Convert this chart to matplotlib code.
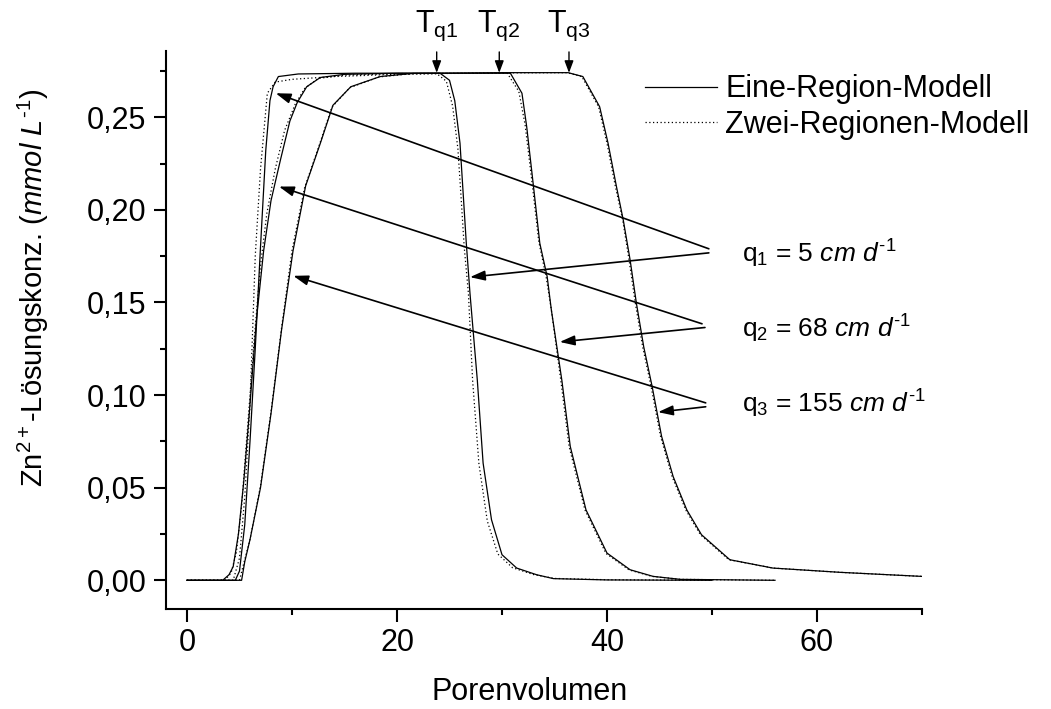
import matplotlib
matplotlib.use("Agg")
import matplotlib.pyplot as plt
from matplotlib.lines import Line2D
from matplotlib.ticker import MultipleLocator, FuncFormatter

plt.rcParams['font.family'] = ['Liberation Sans', 'DejaVu Sans']
plt.rcParams['mathtext.fontset'] = 'custom'
plt.rcParams['mathtext.rm'] = 'Liberation Sans'
plt.rcParams['mathtext.it'] = 'Liberation Sans:italic'
plt.rcParams['mathtext.bf'] = 'Liberation Sans:bold'

# q1 = 5 cm/d
pv_q1_ein = [0, 4.6, 5.0, 5.5, 6.0, 6.5, 7.0, 7.5, 7.9, 8.2, 8.7, 10.6, 16.0, 24.1, 25.0, 25.5,
             26.0, 26.3, 26.6, 26.95, 27.65, 28.2, 29.0, 30.0, 31.4, 33.3, 34.9, 40.0, 50.0]
c_q1_ein = [0, 0, 0.005, 0.03, 0.075, 0.125, 0.18, 0.232, 0.259, 0.2665, 0.272, 0.2734, 0.2738, 0.2738,
            0.270, 0.259, 0.236, 0.209, 0.182, 0.155, 0.108, 0.0633, 0.0327, 0.0138, 0.0066, 0.003,
            0.0009, 0.0002, 0.0]
pv_q1_zwei = [0, 4.4, 5.0, 5.5, 6.0, 6.5, 7.0, 7.65, 8.4, 10.0, 14.0, 20.0, 23.8, 24.7, 25.3, 25.8,
              26.1, 26.4, 26.8, 27.2, 27.8, 28.6, 29.6, 31.0, 33.0, 35.0, 40.0, 50.0]
c_q1_zwei = [0, 0, 0.012, 0.045, 0.095, 0.175, 0.222, 0.263, 0.269, 0.2705, 0.272, 0.2732, 0.2735,
             0.2695, 0.256, 0.233, 0.207, 0.18, 0.155, 0.108, 0.063, 0.032, 0.0142, 0.0068, 0.0031,
             0.001, 0.0003, 0.0]

# q2 = 68 cm/d
pv_q2_ein = [0, 3.4, 4.0, 4.4, 4.9, 5.4, 6.0, 6.6, 7.3, 8.0, 8.9, 9.8, 10.5, 11.4, 12.7, 15.0, 20.0,
             30.8, 31.9, 32.35, 33.0, 33.6, 34.3, 34.7, 35.7, 36.5, 38.0, 40.0, 42.2, 44.4, 47.0, 56.0]
c_q2_ein = [0, 0, 0.003, 0.0074, 0.025, 0.053, 0.095, 0.14, 0.178, 0.205, 0.227, 0.248, 0.258, 0.2665,
            0.2715, 0.2732, 0.2738, 0.2738, 0.263, 0.245, 0.2126, 0.182, 0.164, 0.146, 0.108, 0.0723,
            0.038, 0.0147, 0.0057, 0.0021, 0.0005, 0.0]
pv_q2_zwei = [0, 3.6, 4.2, 4.7, 5.2, 5.8, 6.4, 7.0, 7.6, 8.4, 9.3, 10.3, 11.2, 12.5, 15.0, 20.0, 30.5,
              31.6, 32.2, 32.9, 33.5, 34.2, 34.7, 35.6, 36.4, 37.9, 39.9, 42.1, 44.3, 47.0, 56.0]
c_q2_zwei = [0, 0, 0.004, 0.015, 0.04, 0.085, 0.13, 0.17, 0.198, 0.222, 0.243, 0.257, 0.2655, 0.271,
             0.2728, 0.2736, 0.2738, 0.264, 0.246, 0.213, 0.183, 0.164, 0.146, 0.108, 0.072, 0.038,
             0.0145, 0.0056, 0.0021, 0.0005, 0.0]

# q3 = 155 cm/d
pv_q3_ein = [0, 5.2, 5.5, 6.0, 7.0, 8.0, 9.0, 10.1, 11.3, 12.7, 13.9, 15.6, 18.4, 21.5, 30.0, 36.3,
             37.7, 39.3, 40.1, 40.9, 41.55, 42.2, 42.8, 43.5, 44.3, 45.2, 46.3, 47.6, 49.0, 51.7, 55.8,
             62.2, 70.0]
c_q3_ein = [0, 0, 0.01, 0.022, 0.05, 0.09, 0.135, 0.178, 0.213, 0.236, 0.2565, 0.2665, 0.272, 0.2737,
            0.2741, 0.2741, 0.272, 0.2557, 0.236, 0.2126, 0.1945, 0.173, 0.1496, 0.126, 0.1046, 0.0777,
            0.056, 0.038, 0.0246, 0.0111, 0.0066, 0.0043, 0.0021]
pv_q3_zwei = [0, 5.0, 5.4, 6.0, 7.0, 8.0, 9.0, 10.0, 11.2, 12.6, 13.8, 15.5, 18.3, 21.5, 30.0, 36.2,
              37.6, 39.2, 40.0, 40.8, 41.5, 42.1, 42.7, 43.4, 44.2, 45.1, 46.2, 47.5, 48.9, 51.6, 55.8,
              62.2, 70.0]
c_q3_zwei = [0, 0, 0.009, 0.022, 0.051, 0.091, 0.136, 0.178, 0.212, 0.235, 0.2555, 0.266, 0.2718,
             0.2736, 0.274, 0.2741, 0.272, 0.2557, 0.236, 0.2126, 0.1945, 0.173, 0.1496, 0.126, 0.1046,
             0.0777, 0.056, 0.038, 0.0246, 0.0111, 0.0066, 0.0043, 0.0021]

# annotations
q_labels = [r'q$_1$ = 5 $cm\ d^{\text{-}1}$', r'q$_2$ = 68 $cm\ d^{\text{-}1}$',
            r'q$_3$ = 155 $cm\ d^{\text{-}1}$']
q_label_y = [0.1716, 0.1313, 0.0906]
rise_tips = [(8.45, 0.263), (8.76, 0.2126), (10.12, 0.1644)]
fall_tips = [(26.95, 0.1637), (35.5, 0.1287), (44.86, 0.0908)]
tails_up = [(49.7, 0.179), (49.05, 0.1385), (49.4, 0.0958)]
tails_down = [(49.7, 0.1768), (49.33, 0.1365), (49.4, 0.0937)]
t_labels = [r'T$_{\mathrm{q1}}$', r'T$_{\mathrm{q2}}$', r'T$_{\mathrm{q3}}$']
t_pos = [23.78, 29.74, 36.38]
plateau = 0.274

fig = plt.figure(figsize=(10.51, 7.09), dpi=100)
ax = fig.add_axes([166/1051, 1-609/709, (922-166)/1051, (609-51)/709])

lw = 0.9
ax.plot(pv_q1_ein, c_q1_ein, color='k', lw=lw)
ax.plot(pv_q2_ein, c_q2_ein, color='k', lw=lw)
ax.plot(pv_q3_ein, c_q3_ein, color='k', lw=lw)
dots = (0, (1, 2))
ax.plot(pv_q1_zwei, c_q1_zwei, color='k', lw=lw, ls=dots)
ax.plot(pv_q2_zwei, c_q2_zwei, color='k', lw=lw, ls=dots)
ax.plot(pv_q3_zwei, c_q3_zwei, color='k', lw=lw, ls=dots)

ax.set_xlim(-2.0, 70)
ax.set_ylim(-0.0155, 0.2858)

for s in ['top', 'right']:
    ax.spines[s].set_visible(False)
for s in ['left', 'bottom']:
    ax.spines[s].set_linewidth(1.5)

ax.xaxis.set_major_locator(MultipleLocator(20))
ax.xaxis.set_minor_locator(MultipleLocator(10))
ax.yaxis.set_major_locator(MultipleLocator(0.05))
ax.yaxis.set_minor_locator(MultipleLocator(0.025))
ax.yaxis.set_major_formatter(FuncFormatter(lambda v, p: f'{v:.2f}'.replace('.', ',')))
ax.tick_params(which='major', direction='out', length=9, width=1.5, labelsize=22, pad=5)
ax.tick_params(which='minor', direction='out', length=4.5, width=1.5)

ax.set_xlabel('Porenvolumen', fontsize=22)
ax.xaxis.set_label_coords(0.481, -0.122)
ax.set_ylabel(r'Zn$^{2+}$-Lösungskonz. ($mmol\ L^{\text{-}1}$)', fontsize=21)
ax.yaxis.set_label_coords(-0.152, 0.575)

handles = [Line2D([], [], color='k', lw=lw), Line2D([], [], color='k', lw=lw, ls=dots)]
ax.legend(handles, ['Eine-Region-Modell', 'Zwei-Regionen-Modell'], loc='upper left',
          bbox_to_anchor=(630/1051, 1-59/709), bbox_transform=fig.transFigure, frameon=False,
          fontsize=22, borderpad=0, handlelength=2.36, handletextpad=0.26, labelspacing=0.18)

arrow = dict(arrowstyle='-|>,head_length=0.9,head_width=0.3', color='k', lw=1.2,
             mutation_scale=10, shrinkA=0, shrinkB=0)
for i in range(3):
    ax.text(52.86, q_label_y[i], q_labels[i], fontsize=19, va='baseline', ha='left')
    ax.annotate('', xy=rise_tips[i], xytext=tails_up[i], arrowprops=arrow)
    ax.annotate('', xy=fall_tips[i], xytext=tails_down[i], arrowprops=arrow)

tarrow = dict(arrowstyle='-|>,head_length=0.8,head_width=0.3', color='k', lw=1.0,
              mutation_scale=9, shrinkA=0, shrinkB=0)
for i in range(3):
    ax.annotate('', xy=(t_pos[i], plateau), xytext=(t_pos[i], 0.2853), arrowprops=tarrow,
                annotation_clip=False)
    ax.text(t_pos[i], 1.034, t_labels[i], transform=ax.get_xaxis_transform(), fontsize=22,
            ha='center', va='baseline')

fig.savefig('out.png', dpi=100)
